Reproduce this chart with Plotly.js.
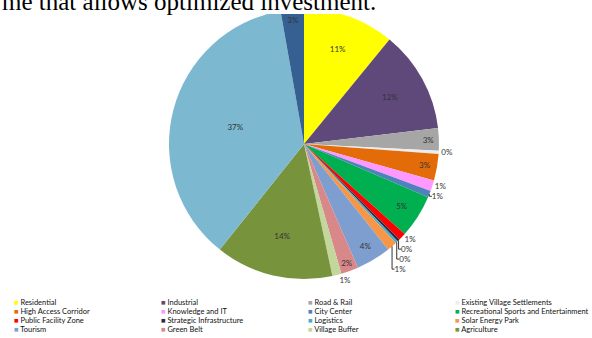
<!DOCTYPE html>
<html>
<head>
<meta charset="utf-8">
<script src="https://cdn.plot.ly/plotly-3.0.1.min.js"></script>
<style>html,body{margin:0;padding:0;background:#fff}#chart{width:592px;height:338px}</style>
</head>
<body>
<div id="chart"></div>
<script>
// Land-use categories (clockwise from 12 o'clock) and their shares (%)
const categories = [
  "Residential", "Industrial", "Road & Rail", "Existing Village Settlements",
  "High Access Corridor", "Knowledge and IT", "City Center", "Recreational Sports and Entertainment",
  "Public Facility Zone", "Strategic Infrastructure", "Logistics", "Solar Energy Park",
  "Tourism", "Green Belt", "Village Buffer", "Agriculture",
  "Open Space", "Future Development"
];
const shares = [
  11.0, 12.3, 2.7, 0.4,
  3.2, 1.3, 0.8, 5.2,
  0.9, 0.3, 0.3, 1.2,
  4.2, 2.1, 1.1, 14.2,
  36.8, 2.8
];
const colors = [
  "#FFFF00", "#5F497A", "#A6A6A6", "#EDEDED",
  "#E36C09", "#FF99FF", "#4F81BD", "#00B050",
  "#FF0000", "#2B2B45", "#4BACC6", "#F79646",
  "#7F9ED0", "#D9888A", "#C3D69B", "#77933C",
  "#7CB9D0", "#376092"
];
const headerText = "me that allows optimized investment.";

const trace = {
  type: "pie",
  labels: categories,
  values: shares,
  sort: false,
  direction: "clockwise",
  rotation: 0,
  marker: {colors: colors, line: {width: 0}},
  texttemplate: "%{percent:.0%}",
  textposition: "auto",
  textfont: {family: "Lato, sans-serif", size: 8, color: "#333"},
  insidetextorientation: "horizontal",
  hoverinfo: "none",
  showlegend: false,
  domain: {x: [169/592, 439/592], y: [1 - 279/338, 1 - 9/338]}
};

// Legend built as annotations (4 columns)
const annotations = [];
const colX = [12, 159, 306, 453];
const rowY = [302, 311, 320, 329, 341];
categories.forEach((c, i) => {
  const col = i % 4, row = Math.floor(i / 4);
  annotations.push({
    xref: "paper", yref: "paper",
    x: colX[col] / 592, y: 1 - rowY[row] / 338,
    xanchor: "left", yanchor: "middle",
    showarrow: false,
    text: '<span style="color:' + colors[i] + '">■</span> ' + c,
    font: {family: "Lato, sans-serif", size: 7.5, color: "#111"}
  });
});
annotations.push({
  xref: "paper", yref: "paper",
  x: 0, y: 1 - 17/338, xanchor: "left", yanchor: "bottom",
  showarrow: false,
  text: headerText,
  font: {family: "Liberation Serif, Times New Roman, serif", size: 25, color: "#000"}
});

const layout = {
  width: 592, height: 338,
  margin: {l: 0, r: 0, t: 0, b: 0},
  paper_bgcolor: "#fff",
  showlegend: false,
  annotations: annotations,
  // white strip of the surrounding document page that covers the pie's top edge
  shapes: [{type: "rect", xref: "paper", yref: "paper", layer: "above",
            x0: 0, x1: 1, y0: 1 - 14/338, y1: 1,
            fillcolor: "#fff", line: {width: 0}}]
};
Plotly.newPlot("chart", [trace], layout, {displayModeBar: false, staticPlot: true});
</script>
</body>
</html>
